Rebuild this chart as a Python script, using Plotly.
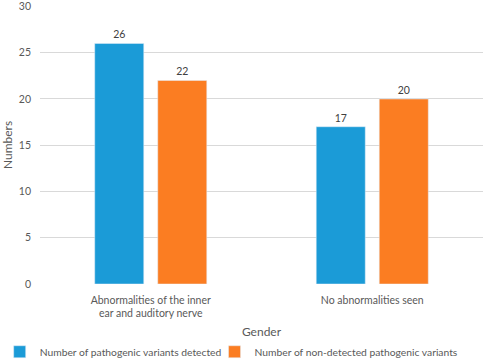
import plotly.graph_objects as go

categories = ["Abnormalities of the inner<br>ear and auditory nerve", "No abnormalities seen"]
detected = [26, 17]
non_detected = [22, 20]
series_names = ["Number of pathogenic variants detected", "Number of non-detected pathogenic variants"]
y_ticks = [0, 5, 10, 15, 20, 25, 30]

FONT = "Lato, Open Sans, sans-serif"
GRAY = "#595959"

fig = go.Figure()
fig.add_trace(go.Bar(x=categories, y=detected, name=series_names[0], marker_color="#1b9bd7",
                     text=detected, textposition="outside", cliponaxis=False, legend="legend",
                     textfont=dict(size=10.5, color="#404040", family=FONT)))
fig.add_trace(go.Bar(x=categories, y=non_detected, name=series_names[1], marker_color="#fb7d22",
                     text=non_detected, textposition="outside", cliponaxis=False, legend="legend2",
                     textfont=dict(size=10.5, color="#404040", family=FONT)))

leg_common = dict(orientation="h", xanchor="left", y=-0.2437, yanchor="middle",
                  font=dict(size=10.3, color=GRAY), itemwidth=30,
                  bgcolor="rgba(0,0,0,0)")

fig.update_layout(
    width=484, height=359,
    margin=dict(l=40, r=1, t=6, b=75, autoexpand=False),
    paper_bgcolor="white", plot_bgcolor="white",
    barmode="group", bargap=0.431, bargroupgap=0.222,
    font=dict(family=FONT, size=10.5, color=GRAY),
    showlegend=True,
    legend=dict(x=-0.091, **leg_common),
    legend2=dict(x=0.394, **leg_common),
    xaxis=dict(showgrid=False, showline=False, ticks="", automargin=False,
               ticklabelstandoff=8,
               tickfont=dict(size=10.5, color=GRAY),
               title=dict(text="Gender", font=dict(size=12, color=GRAY), standoff=9)),
    yaxis=dict(range=[0, 30.05], tickvals=y_ticks, showgrid=True, gridcolor="#d9d9d9", gridwidth=1,
               zeroline=False, showline=False, ticks="", automargin=False,
               ticklabelstandoff=8,
               ticklabeloverflow="allow", tickfont=dict(size=10.5, color=GRAY),
               title=dict(text="Numbers", font=dict(size=12, color=GRAY), standoff=7)),
)
fig.write_html("out.html", config={"displayModeBar": False},
               post_script="document.body.style.margin='0';document.body.style.overflow='hidden';")
